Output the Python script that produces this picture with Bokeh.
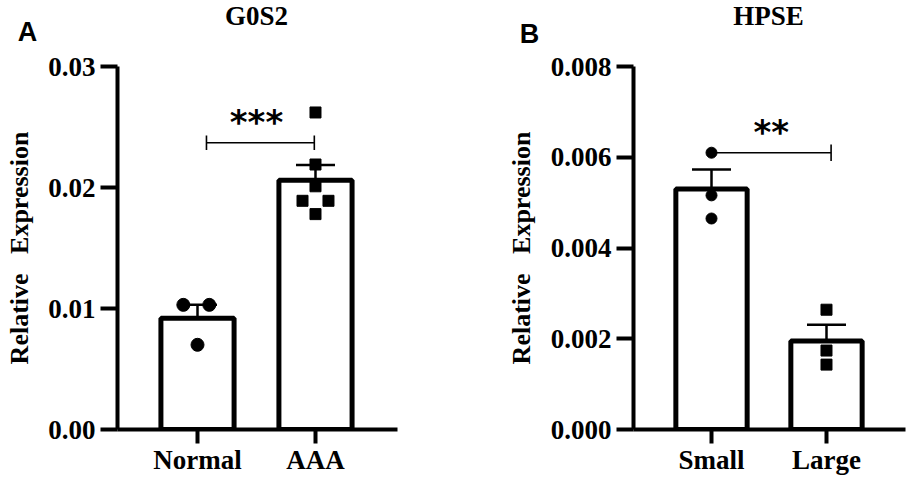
from bokeh.plotting import figure
from bokeh.models import Range1d, FixedTicker, Whisker, TeeHead, ColumnDataSource
from bokeh.layouts import row, column
from bokeh.embed import file_html
from bokeh.resources import INLINE
from bokeh.core.properties import value

# ---------------- data ----------------
y_label = "Relative\u00a0\u00a0\u00a0Expression"

# Panel A
a_letter = "A"
a_title = "G0S2"
a_groups = ["Normal", "AAA"]
a_means = [0.0092, 0.0206]
a_sems = [0.00112, 0.00126]
a_pts_1 = [0.0103, 0.0103, 0.0070]
a_pts_2 = [0.0262, 0.0219, 0.0201, 0.0189, 0.0189, 0.0178]
a_jit_1 = [-0.12, 0.10, 0.0]
a_jit_2 = [0.0, 0.0, 0.0, -0.11, 0.11, 0.0]
a_yticks = [0.0, 0.01, 0.02, 0.03]
a_ytick_labels = ["0.00", "0.01", "0.02", "0.03"]
a_sig = "***"

# Panel B
b_letter = "B"
b_title = "HPSE"
b_groups = ["Small", "Large"]
b_means = [0.0053, 0.00195]
b_sems = [0.00043, 0.00036]
b_pts_1 = [0.0061, 0.00516, 0.00465]
b_pts_2 = [0.00264, 0.00174, 0.00143]
b_jit_1 = [0.0, 0.0, 0.0]
b_jit_2 = [0.0, 0.0, 0.0]
b_yticks = [0.0, 0.002, 0.004, 0.006, 0.008]
b_ytick_labels = ["0.000", "0.002", "0.004", "0.006", "0.008"]
b_sig = "**"

SERIF = "Liberation Serif"
HEAD_H = 48
TOP = 18
FRAME_H = 363
FS = "27px"


def make_header(width, letter, letter_xy, title, title_xy):
    h = figure(output_backend="svg", toolbar_location=None,
               frame_width=width, frame_height=HEAD_H,
               x_range=Range1d(0, width), y_range=Range1d(0, HEAD_H),
               x_axis_location=None, y_axis_location=None,
               min_border=0)
    h.outline_line_color = None
    h.grid.visible = False
    h.text(x=[letter_xy[0]], y=[letter_xy[1]], text=[letter],
           text_font=value("Liberation Sans"), text_font_style="bold",
           text_font_size="27px", text_align="center", text_baseline="middle",
           text_color="black")
    h.text(x=[title_xy[0]], y=[title_xy[1]], text=[title],
           text_font=value(SERIF), text_font_style="bold",
           text_font_size="27px", text_align="center", text_baseline="middle",
           text_color="black")
    return h


def make_panel(groups, means, sems, pts1, jit1, pts2, jit2,
               marker1, marker2, size1, size2, yticks, ylabels, xr, frame_w,
               left, right, label_standoff, bracket, sig_xy):
    ymax = yticks[-1]
    p = figure(output_backend="svg", toolbar_location=None,
               frame_width=frame_w, frame_height=FRAME_H,
               x_range=Range1d(*xr), y_range=Range1d(0, ymax),
               min_border_left=left, min_border_right=right,
               min_border_top=TOP, min_border_bottom=0)
    p.outline_line_color = None
    p.grid.visible = False

    xs = [1, 2]
    src = ColumnDataSource(dict(x=xs, top=means,
                                upper=[m + s for m, s in zip(means, sems)],
                                lower=[m - s for m, s in zip(means, sems)]))
    p.vbar(x="x", top="top", bottom=0, width=0.62, source=src,
           fill_color="white", line_color="black", line_width=5)

    p.scatter(x=[1 + j for j in jit1], y=pts1, marker=marker1, size=size1,
              fill_color="black", line_color="black")
    p.scatter(x=[2 + j for j in jit2], y=pts2, marker=marker2, size=size2,
              fill_color="black", line_color="black")

    w = Whisker(source=src, base="x", upper="upper", lower="lower",
                line_color="black", line_width=2.5,
                upper_head=TeeHead(size=39, line_color="black", line_width=2.5),
                lower_head=TeeHead(size=39, line_color="black", line_width=2.5))
    p.add_layout(w)

    # significance bracket
    bx0, bx1, by, th, left_tick = bracket
    p.segment(x0=[bx0], y0=[by], x1=[bx1], y1=[by], line_color="black", line_width=1.6)
    tx = [bx0, bx1] if left_tick else [bx1]
    p.segment(x0=tx, y0=[by - th] * len(tx), x1=tx, y1=[by + th] * len(tx),
              line_color="black", line_width=1.6)
    p.text(x=[sig_xy[0]], y=[sig_xy[1]], text=[sig_xy[2]],
           text_font=value("DejaVu Sans"), text_font_style="bold",
           text_font_size="34px", text_align="center", text_baseline="alphabetic",
           text_color="black")

    # axes
    for ax in (p.xaxis[0], p.yaxis[0]):
        ax.axis_line_width = 4
        ax.axis_line_color = "black"
        ax.major_tick_line_width = 4
        ax.major_tick_line_color = "black"
        ax.major_tick_in = 0
        ax.minor_tick_line_color = None
        ax.major_label_text_font = SERIF
        ax.major_label_text_font_style = "bold"
        ax.major_label_text_font_size = FS
        ax.major_label_text_color = "black"

    p.yaxis.ticker = FixedTicker(ticks=yticks)
    p.yaxis.major_label_overrides = {t: l for t, l in zip(yticks, ylabels)}
    p.yaxis.major_tick_out = 17
    p.yaxis.major_label_standoff = 5
    p.yaxis.axis_label = y_label
    p.yaxis.axis_label_text_font = SERIF
    p.yaxis.axis_label_text_font_style = "bold"
    p.yaxis.axis_label_text_font_size = "26px"
    p.yaxis.axis_label_text_color = "black"
    p.yaxis.axis_label_standoff = label_standoff

    p.xaxis.ticker = FixedTicker(ticks=xs)
    p.xaxis.major_label_overrides = {x: g for x, g in zip(xs, groups)}
    p.xaxis.major_tick_out = 14
    p.xaxis.major_label_standoff = 1
    return p


WA, WB = 454, 455

ha = make_header(WA, a_letter, (27, HEAD_H - 31), a_title, (256, HEAD_H - 15))
hb = make_header(WB, b_letter, (75, HEAD_H - 33), b_title, (314, HEAD_H - 15))

pa = make_panel(a_groups, a_means, a_sems, a_pts_1, a_jit_1, a_pts_2, a_jit_2,
                "circle", "square", 13, 11, a_yticks, a_ytick_labels,
                (0.322, 2.695), 280, 117, WA - 117 - 280, 11,
                (1.076, 1.99, 0.0237, 0.0006, True), (1.5, 0.0254, a_sig))

pb = make_panel(b_groups, b_means, b_sems, b_pts_1, b_jit_1, b_pts_2, b_jit_2,
                "circle", "square", 11, 11, b_yticks, b_ytick_labels,
                (0.3217, 2.687), 272, 179, WB - 179 - 272, 12,
                (1.0, 2.04, 0.0061, 0.00018, False), (1.52, 0.00655, b_sig))

layout = column(row(ha, hb), row(pa, pb))
open("out.html", "w").write(file_html(layout, INLINE))
